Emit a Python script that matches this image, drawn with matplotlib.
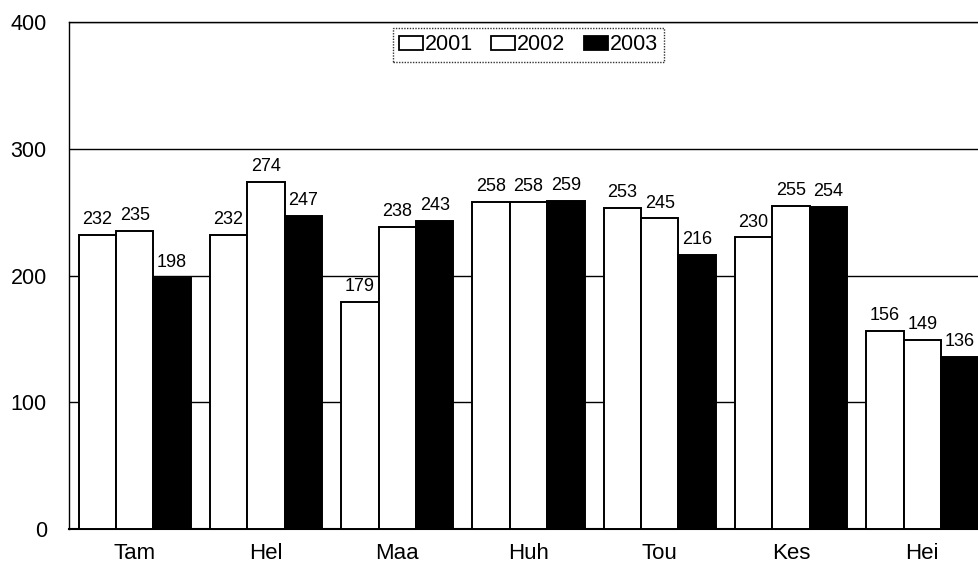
import matplotlib
matplotlib.use("Agg")
import matplotlib.pyplot as plt
import numpy as np
from matplotlib.patches import Patch

categories = ["Tam", "Hel", "Maa", "Huh", "Tou", "Kes", "Hei"]
series_names = ["2001", "2002", "2003"]
v2001 = [232, 232, 179, 258, 253, 230, 156]
v2002 = [235, 274, 238, 258, 245, 255, 149]
v2003 = [198, 247, 243, 259, 216, 254, 136]
yticks = [0, 100, 200, 300, 400]

plt.rcParams["font.family"] = ["Liberation Sans", "DejaVu Sans"]

fig = plt.figure(figsize=(9.79, 5.70), dpi=100)
ax = fig.add_axes([69/979, 41/570, 919/979, 507/570])

x = np.arange(len(categories))
w = 0.285
colors = ["white", "white", "black"]
for i, (vals, c) in enumerate(zip([v2001, v2002, v2003], colors)):
    pos = x + (i - 1) * w
    bars = ax.bar(pos, vals, width=w, color=c, edgecolor="black", linewidth=1.4, zorder=3)
    for b, v in zip(bars, vals):
        ax.annotate(str(v), (b.get_x() + b.get_width() / 2, v), xytext=(0, 5),
                    textcoords="offset points", ha="center", va="bottom",
                    fontsize=13, color="black", zorder=4)

ax.set_xlim(-0.5, len(categories) - 0.5)
ax.set_ylim(0, 400)
ax.set_yticks(yticks)
ax.set_yticklabels([str(t) for t in yticks], fontsize=15.5)
ax.set_xticks(x)
ax.set_xticklabels(categories, fontsize=16)
ax.tick_params(axis="both", length=0)
ax.tick_params(axis="y", pad=16)
ax.tick_params(axis="x", pad=10)
ax.yaxis.grid(True, color="black", linewidth=1.0, zorder=0)
ax.set_axisbelow(True)
for s in ["left", "top", "right"]:
    ax.spines[s].set_linewidth(1.0)
ax.spines["bottom"].set_linewidth(1.5)

handles = [Patch(facecolor=c, edgecolor="black", linewidth=1.3) for c in colors]
leg = ax.legend(handles, series_names, loc="center", bbox_to_anchor=(0.5, 0.955),
                ncol=3, frameon=True, fancybox=False, fontsize=15.5,
                handlelength=1.1, handleheight=0.6, handletextpad=0.1,
                columnspacing=0.85, borderpad=0.3, borderaxespad=0)
leg.get_frame().set_edgecolor("black")
leg.get_frame().set_linewidth(1.0)
leg.get_frame().set_linestyle((0, (1, 1)))

fig.savefig("out.png", dpi=100)
